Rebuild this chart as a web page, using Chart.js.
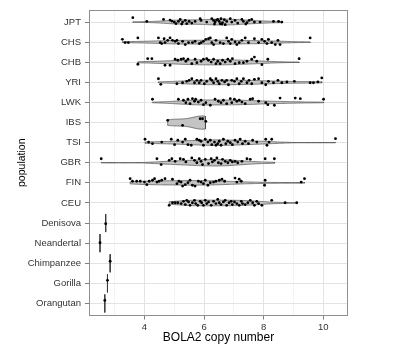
<!DOCTYPE html>
<html>
<head>
<meta charset="utf-8">
<script src="https://cdn.jsdelivr.net/npm/chart.js@4/dist/chart.umd.min.js"></script>
<style>
  html, body { margin: 0; padding: 0; background: #ffffff; }
  #wrap { width: 400px; height: 350px; }
</style>
</head>
<body>
<div id="wrap"><canvas id="chart" width="400" height="350"></canvas></div>
<script>
// Category order, top to bottom
const populations = ['JPT', 'CHS', 'CHB', 'YRI', 'LWK', 'IBS', 'TSI', 'GBR', 'FIN', 'CEU',
                     'Denisova', 'Neandertal', 'Chimpanzee', 'Gorilla', 'Orangutan'];

// X axis: grid every unit, labels on even values
const xTickValues = [3, 4, 5, 6, 7, 8, 9, 10];
const xTickLabels = ['', '4', '', '6', '', '8', '', '10'];

// BOLA2 copy number per individual, with the vertical jitter (category units) of each point
const copyJPT = [3.61, 4.08, 4.64, 4.86, 4.92, 5.00, 5.06, 5.14, 5.20, 5.25, 5.28, 5.37, 5.42, 5.50, 5.59, 5.70,
  5.87, 5.90, 6.09, 6.26, 6.32, 6.35, 6.37, 6.42, 6.46, 6.51, 6.54, 6.57, 6.60, 6.62, 6.68, 6.71, 6.76,
  6.88, 6.93, 7.04, 7.13, 7.27, 7.32, 7.40, 7.44, 7.51, 7.60, 7.69, 7.88, 8.33, 8.50, 8.61];
const jitterJPT = [-0.22, -0.03, -0.13, -0.10, -0.05, 0.00, 0.08, -0.03, -0.13, 0.10, 0.00, -0.08, 0.08, -0.03, 0.05, -0.03,
  -0.17, -0.08, 0.00, -0.17, -0.08, 0.10, 0.00, -0.10, -0.13, -0.03, 0.08, -0.17, 0.10, 0.03, -0.12, 0.13, -0.03,
  -0.17, 0.00, -0.08, 0.05, -0.13, -0.03, 0.10, 0.03, -0.08, -0.13, 0.00, 0.00, -0.03, -0.03, 0.00];

const copyCHS = [3.26, 3.35, 3.46, 3.78, 4.47, 4.53, 4.58, 4.66, 4.69, 4.78, 4.86, 4.94, 5.03, 5.09, 5.14, 5.28,
  5.37, 5.48, 5.61, 5.70, 5.84, 5.90, 5.98, 6.06, 6.15, 6.21, 6.26, 6.32, 6.40, 6.54, 6.65, 6.76, 6.82,
  6.88, 6.93, 7.04, 7.10, 7.18, 7.27, 7.38, 7.49, 7.69, 7.83, 7.94, 8.03, 8.11, 8.16, 8.27, 8.39, 8.48, 8.55, 9.56];
const jitterCHS = [-0.14, 0.02, 0.02, -0.21, -0.21, 0.02, 0.07, -0.17, 0.02, -0.09, -0.21, -0.09, -0.04, -0.09, 0.07, -0.04,
  0.12, 0.02, 0.02, -0.04, 0.07, 0.02, -0.04, -0.14, -0.17, -0.21, 0.02, 0.12, -0.09, 0.02, 0.07, -0.21, -0.04,
  0.07, -0.14, -0.01, 0.12, 0.02, -0.09, -0.21, 0.02, -0.17, 0.02, -0.14, -0.04, 0.07, -0.14, 0.02, 0.12, -0.09, 0.12, -0.21];

const copyCHB = [3.78, 4.11, 4.25, 4.69, 4.86, 5.03, 5.12, 5.23, 5.31, 5.39, 5.46, 5.59, 5.70, 5.76, 5.90, 5.98,
  6.09, 6.15, 6.24, 6.32, 6.40, 6.46, 6.54, 6.62, 6.71, 6.80, 6.88, 6.95, 7.04, 7.18, 7.32, 7.44, 7.60,
  7.69, 7.77, 7.94, 8.14, 9.19];
const jitterCHB = [0.10, -0.18, -0.18, 0.15, 0.15, -0.15, -0.10, -0.15, -0.18, -0.05, -0.15, 0.07, -0.15, 0.02, -0.05, -0.15,
  -0.18, -0.10, -0.01, -0.15, 0.07, -0.05, 0.07, -0.10, -0.01, -0.15, -0.05, -0.18, 0.07, 0.02, 0.02, -0.05, -0.15,
  -0.26, -0.05, 0.12, -0.15, -0.18];

const copyYRI = [4.47, 4.55, 5.09, 5.28, 5.42, 5.50, 5.59, 5.68, 5.76, 5.84, 5.90, 6.01, 6.09, 6.21, 6.26, 6.32,
  6.40, 6.46, 6.51, 6.60, 6.69, 6.76, 6.82, 6.93, 7.02, 7.10, 7.18, 7.25, 7.32, 7.44, 7.51, 7.60, 7.69,
  7.83, 7.94, 8.07, 8.16, 8.33, 8.48, 8.61, 8.78, 9.03, 9.56, 9.67, 9.82, 9.95];
const jitterYRI = [-0.18, 0.10, 0.07, 0.02, -0.05, -0.10, -0.18, 0.02, -0.10, 0.02, -0.10, 0.07, -0.05, -0.18, -0.10, 0.02,
  -0.18, -0.05, 0.07, -0.10, -0.02, -0.10, 0.12, -0.10, -0.05, -0.18, 0.07, -0.05, -0.18, 0.02, -0.10, 0.07, -0.15,
  -0.18, 0.02, 0.12, -0.05, 0.02, -0.10, 0.02, -0.02, -0.05, 0.02, 0.02, -0.02, -0.22];

const copyLWK = [4.27, 5.14, 5.31, 5.39, 5.46, 5.53, 5.61, 5.68, 5.72, 5.81, 5.90, 5.98, 6.06, 6.21, 6.37, 6.48,
  6.57, 6.65, 6.76, 6.88, 6.93, 7.02, 7.10, 7.18, 7.27, 7.38, 7.55, 7.63, 7.83, 8.07, 8.14, 8.36, 8.55,
  9.06, 9.23, 10.01];
const jitterLWK = [-0.16, -0.16, -0.11, 0.01, -0.16, 0.06, -0.19, -0.06, -0.16, -0.02, -0.11, 0.11, 0.01, 0.14, -0.16, -0.06,
  0.01, -0.11, 0.06, -0.19, 0.01, -0.16, -0.06, -0.11, -0.02, 0.06, -0.16, -0.19, -0.06, 0.01, 0.11, 0.14, -0.22,
  -0.22, -0.19, -0.16];

const copyIBS = [4.78, 5.28, 5.87, 5.95, 6.06];
const jitterIBS = [-0.11, 0.14, -0.19, -0.19, -0.06];

const copyTSI = [4.02, 4.14, 4.27, 4.58, 4.90, 5.01, 5.12, 5.28, 5.37, 5.46, 5.57, 5.76, 5.84, 5.90, 5.98, 6.04,
  6.13, 6.21, 6.26, 6.35, 6.40, 6.46, 6.51, 6.57, 6.65, 6.73, 6.80, 6.88, 6.95, 7.04, 7.13, 7.21, 7.29,
  7.38, 7.49, 7.63, 7.77, 8.07, 8.11, 8.18, 8.27, 10.41];
const jitterTSI = [-0.17, -0.03, 0.05, -0.03, -0.17, 0.10, -0.12, -0.03, -0.17, 0.10, 0.13, -0.17, -0.12, -0.07, 0.13, -0.17,
  -0.03, -0.12, 0.10, -0.03, 0.13, 0.05, -0.07, 0.13, -0.17, 0.05, -0.07, 0.00, 0.10, -0.12, -0.03, -0.17, 0.05,
  -0.07, 0.05, -0.12, -0.03, -0.17, 0.13, -0.03, -0.17, -0.20];

const copyGBR = [2.55, 4.42, 4.56, 4.83, 4.92, 5.03, 5.20, 5.31, 5.39, 5.59, 5.68, 5.76, 5.84, 5.90, 5.95, 6.04,
  6.15, 6.24, 6.28, 6.35, 6.43, 6.48, 6.57, 6.62, 6.71, 6.80, 6.88, 6.95, 7.04, 7.13, 7.27, 7.44, 7.55,
  8.05, 8.36];
const jitterGBR = [-0.20, -0.20, 0.09, -0.12, -0.20, -0.07, -0.20, -0.17, -0.04, -0.24, -0.12, 0.00, -0.20, -0.07, 0.09, -0.17,
  0.04, -0.20, -0.04, -0.12, -0.24, 0.00, 0.04, -0.17, -0.07, 0.00, -0.12, -0.04, -0.07, 0.00, -0.07, -0.20, -0.17,
  -0.20, -0.20];

const copyFIN = [3.52, 3.60, 3.74, 3.86, 4.00, 4.08, 4.16, 4.27, 4.34, 4.42, 4.49, 4.58, 4.69, 4.94, 5.09, 5.16,
  5.23, 5.28, 5.37, 5.46, 5.53, 5.61, 5.70, 5.81, 5.90, 5.98, 6.04, 6.13, 6.21, 6.32, 6.40, 6.51, 6.60,
  6.69, 7.04, 7.10, 7.18, 7.25, 8.03, 8.05, 9.26, 9.37];
const jitterFIN = [-0.21, -0.08, -0.08, -0.08, -0.04, 0.09, -0.08, -0.13, -0.21, -0.04, -0.08, -0.13, -0.21, -0.18, 0.04, -0.08,
  -0.04, 0.16, 0.09, -0.01, -0.13, 0.12, 0.16, -0.08, -0.04, 0.04, -0.13, 0.12, -0.01, -0.04, -0.08, -0.13, -0.18,
  -0.08, -0.24, -0.04, -0.18, -0.08, 0.12, -0.13, -0.04, -0.21];

const copyCEU = [4.83, 4.94, 5.03, 5.12, 5.23, 5.31, 5.37, 5.42, 5.48, 5.53, 5.61, 5.68, 5.72, 5.79, 5.87, 5.92,
  5.98, 6.04, 6.09, 6.15, 6.24, 6.32, 6.40, 6.46, 6.51, 6.57, 6.65, 6.71, 6.76, 6.84, 6.91, 6.95, 7.02,
  7.10, 7.18, 7.25, 7.29, 7.38, 7.47, 7.55, 7.63, 7.69, 7.77, 7.83, 7.94, 8.27, 8.72, 9.11];
const jitterCEU = [0.12, -0.01, -0.01, -0.01, 0.03, -0.08, 0.08, -0.13, -0.05, 0.12, -0.01, -0.13, 0.03, 0.12, -0.08, -0.01,
  0.12, -0.13, 0.03, -0.05, 0.12, -0.08, 0.03, -0.18, -0.01, 0.08, -0.05, -0.13, 0.12, -0.01, -0.08, 0.08, -0.05,
  0.03, 0.12, -0.08, 0.03, 0.08, -0.01, -0.13, -0.01, 0.12, -0.08, 0.03, 0.12, -0.13, -0.01, -0.01];

// Archaic hominins and great apes: one genome each
const singleNames = ['Denisova', 'Neandertal', 'Chimpanzee', 'Gorilla', 'Orangutan'];
const singleCopies = [2.70, 2.51, 2.85, 2.76, 2.67];
const singleJitter = [0.03, -0.02, -0.10, -0.15, -0.15];

const groups = [
  ['JPT', copyJPT, jitterJPT], ['CHS', copyCHS, jitterCHS], ['CHB', copyCHB, jitterCHB],
  ['YRI', copyYRI, jitterYRI], ['LWK', copyLWK, jitterLWK], ['IBS', copyIBS, jitterIBS],
  ['TSI', copyTSI, jitterTSI], ['GBR', copyGBR, jitterGBR], ['FIN', copyFIN, jitterFIN],
  ['CEU', copyCEU, jitterCEU]
];

// ---- Gaussian kernel density, R's bw.nrd0, trimmed to the data range ----
function quantile(sorted, p) {
  const h = (sorted.length - 1) * p;
  const lo = Math.floor(h);
  const hi = Math.min(lo + 1, sorted.length - 1);
  return sorted[lo] + (h - lo) * (sorted[hi] - sorted[lo]);
}
function bandwidth(values) {
  const n = values.length;
  const mean = values.reduce((a, b) => a + b, 0) / n;
  const sd = Math.sqrt(values.reduce((a, b) => a + (b - mean) * (b - mean), 0) / (n - 1));
  const s = [...values].sort((a, b) => a - b);
  const iqr = quantile(s, 0.75) - quantile(s, 0.25);
  let lo = Math.min(sd, iqr / 1.34);
  if (!(lo > 0)) lo = sd || 1;
  return 0.9 * lo * Math.pow(n, -0.2);
}
function density(values, steps) {
  const bw = bandwidth(values);
  const lo = Math.min(...values), hi = Math.max(...values);
  const norm = values.length * bw * Math.sqrt(2 * Math.PI);
  const out = [];
  for (let i = 0; i <= steps; i++) {
    const x = lo + (hi - lo) * i / steps;
    let d = 0;
    for (const v of values) { const z = (x - v) / bw; d += Math.exp(-0.5 * z * z); }
    out.push([x, d / norm]);
  }
  return out;
}

const densities = groups.map(g => density(g[1], 160));
const peak = Math.max(...densities.flat().map(p => p[1]));
const VIOLIN_HALF = 0.33;   // half-width (category units) of the tallest violin

const datasets = [];
groups.forEach((g, k) => {
  const row = populations.indexOf(g[0]);
  const dens = densities[k];
  const top = dens.map(([x, d]) => ({ x, y: row - VIOLIN_HALF * d / peak }));
  const bottom = dens.map(([x, d]) => ({ x, y: row + VIOLIN_HALF * d / peak })).reverse();
  datasets.push({
    label: g[0] + ' violin',
    data: [...top, ...bottom, top[0]],
    fill: 'shape',
    backgroundColor: '#c4c4c4',
    borderColor: '#3a3a3a',
    borderWidth: 0.6,
    pointRadius: 0,
    tension: 0,
    order: 2
  });
  datasets.push({
    label: g[0],
    data: g[1].map((v, i) => ({ x: v, y: row + g[2][i] })),
    showLine: false,
    pointRadius: 1.4,
    pointBackgroundColor: '#000000',
    pointBorderWidth: 0,
    order: 0
  });
});

singleNames.forEach((name, k) => {
  const row = populations.indexOf(name);
  datasets.push({
    label: name + ' range',
    data: [{ x: singleCopies[k], y: row - 0.45 }, { x: singleCopies[k], y: row + 0.45 }],
    borderColor: '#3a3a3a',
    borderWidth: 0.9,
    pointRadius: 0,
    fill: false,
    order: 2
  });
  datasets.push({
    label: name,
    data: [{ x: singleCopies[k], y: row + singleJitter[k] }],
    showLine: false,
    pointRadius: 1.4,
    pointBackgroundColor: '#000000',
    pointBorderWidth: 0,
    order: 0
  });
});

const FONT = "'Liberation Sans', Arial, Helvetica, sans-serif";

// Light grey frame round the plotting panel
const panelFrame = {
  id: 'panelFrame',
  afterDatasetsDraw(chart) {
    const { ctx, chartArea: a } = chart;
    ctx.save();
    ctx.strokeStyle = '#8f8f8f';
    ctx.lineWidth = 1;
    ctx.strokeRect(Math.round(a.left) + 0.5, Math.round(a.top) + 0.5,
                   Math.round(a.right - a.left) - 1, Math.round(a.bottom - a.top) - 1);
    ctx.restore();
  }
};

new Chart(document.getElementById('chart'), {
  type: 'line',
  data: { datasets },
  plugins: [panelFrame],
  options: {
    responsive: false,
    animation: false,
    devicePixelRatio: 1,
    layout: { padding: { top: 10, right: 52, left: 0, bottom: 0 } },
    plugins: { legend: { display: false }, tooltip: { enabled: false } },
    scales: {
      x: {
        type: 'linear',
        min: 2.14,
        max: 10.83,
        afterBuildTicks: s => { s.ticks = xTickValues.map(v => ({ value: v })); },
        afterFit: s => { s.height = 34.5; },
        border: { display: false },
        grid: {
          color: c => (c.tick && c.tick.value % 2 === 0) ? '#e3e3e3' : '#f3f3f3',
          tickColor: c => (c.tick && c.tick.value % 2 === 0) ? '#7f7f7f' : 'rgba(0,0,0,0)',
          tickLength: 4,
          lineWidth: 1
        },
        ticks: {
          callback: (v) => xTickLabels[xTickValues.indexOf(v)],
          autoSkip: false,
          maxRotation: 0,
          padding: 2,
          color: '#333333',
          font: { family: FONT, size: 9.5 }
        },
        title: {
          display: true,
          text: 'BOLA2 copy number',
          color: '#000000',
          font: { family: FONT, size: 12 },
          padding: { top: 0, bottom: 5 }
        }
      },
      y: {
        type: 'linear',
        reverse: true,
        min: -0.6,
        max: populations.length - 0.4,
        afterBuildTicks: s => { s.ticks = populations.map((_, i) => ({ value: i })); },
        afterFit: s => { s.width = 89; },
        border: { display: false },
        grid: {
          color: '#e3e3e3',
          tickColor: '#7f7f7f',
          tickLength: 4,
          lineWidth: 1
        },
        ticks: {
          callback: v => populations[v],
          autoSkip: false,
          padding: 4,
          color: '#333333',
          font: { family: FONT, size: 9.5 }
        },
        title: {
          display: true,
          text: 'population',
          color: '#000000',
          font: { family: FONT, size: 10.5 },
          padding: { top: 16, bottom: 0 }
        }
      }
    }
  }
});
</script>
</body>
</html>
